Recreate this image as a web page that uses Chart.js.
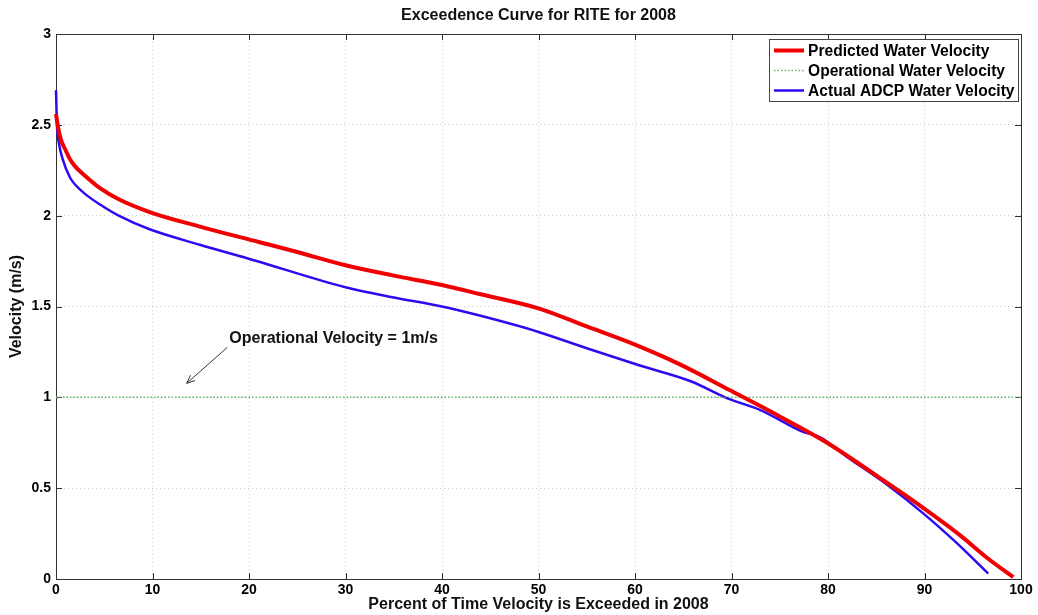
<!DOCTYPE html>
<html><head><meta charset="utf-8">
<script src="https://cdn.jsdelivr.net/npm/chart.js@4/dist/chart.umd.min.js"></script>
<style>html,body{margin:0;padding:0;background:#fff}#wrap{width:1038px;height:615px}</style>
</head><body><div id="wrap"><canvas id="c" width="1038" height="615"></canvas></div>
<script>
// ---- data ----
const titleText = 'Exceedence Curve for RITE for 2008';
const xTitle = 'Percent of Time Velocity is Exceeded in 2008';
const yTitle = 'Velocity (m/s)';
const seriesLabels = ['Predicted Water Velocity', 'Operational Water Velocity', 'Actual ADCP Water Velocity'];

const predX = [0, 0.2, 0.5, 1, 1.45, 2, 3, 4.6, 6.5, 9.7, 14.9, 21.1, 25, 30, 35, 40, 43.9, 50, 55, 60, 64.7, 69.8, 75, 79.9, 86.1, 89.9, 93.7, 96.4, 99.2];
const predV = [2.56, 2.49, 2.42, 2.36, 2.31, 2.27, 2.22, 2.15, 2.09, 2.02, 1.94, 1.854, 1.80, 1.727, 1.67, 1.618, 1.569, 1.49, 1.39, 1.29, 1.18, 1.04, 0.895, 0.75, 0.53, 0.39, 0.24, 0.12, 0.01];

const opX = [0, 100];
const opV = [1, 1];

const adcpX = [0, 0.1, 0.3, 0.7, 1.45, 2, 3, 4.6, 6.5, 9.7, 14.9, 20.5, 30, 35, 40, 43.9, 50, 55, 60.5, 65.7, 69.8, 73, 77.4, 79.2, 81.9, 86.1, 89.9, 93.3, 96.6];
const adcpV = [2.69, 2.50, 2.40, 2.31, 2.21, 2.17, 2.12, 2.06, 2.00, 1.925, 1.84, 1.755, 1.606, 1.55, 1.50, 1.45, 1.36, 1.27, 1.175, 1.09, 0.99, 0.93, 0.81, 0.78, 0.675, 0.52, 0.36, 0.20, 0.03];

const xTicks = [0, 10, 20, 30, 40, 50, 60, 70, 80, 90, 100];
const yTicks = [0, 0.5, 1, 1.5, 2, 2.5, 3];

const annText = 'Operational Velocity = 1m/s';
const annTextAt = {x: 17.96, y: 1.326};
const annArrowFrom = {x: 17.75, y: 1.275};
const annArrowTo = {x: 13.54, y: 1.077};

// ---- chart ----
const FONT = '"Liberation Sans", Arial, Helvetica, sans-serif';
const toPts = (xs, ys) => xs.map((x, i) => ({x, y: ys[i]}));

const framePlugin = {
  id: 'frame',
  beforeDatasetsDraw(chart) {
    const {ctx, chartArea: a, scales} = chart;
    ctx.save();
    ctx.strokeStyle = '#333';
    ctx.lineWidth = 1;
    ctx.setLineDash([]);
    ctx.strokeRect(Math.round(a.left) + 0.5, Math.round(a.top) + 0.5, Math.round(a.right - a.left), Math.round(a.bottom - a.top));
    const tl = 6;
    ctx.beginPath();
    xTicks.forEach(v => {
      const px = Math.round(scales.x.getPixelForValue(v)) + 0.5;
      ctx.moveTo(px, a.bottom); ctx.lineTo(px, a.bottom - tl);
      ctx.moveTo(px, a.top); ctx.lineTo(px, a.top + tl);
    });
    yTicks.forEach(v => {
      const py = Math.round(scales.y.getPixelForValue(v)) + 0.5;
      ctx.moveTo(a.left, py); ctx.lineTo(a.left + tl, py);
      ctx.moveTo(a.right, py); ctx.lineTo(a.right - tl, py);
    });
    ctx.stroke();
    ctx.restore();
  },
  afterDraw(chart) {
    const {ctx, scales} = chart;
    ctx.save();
    // annotation
    const x = scales.x, y = scales.y;
    ctx.fillStyle = '#111';
    ctx.font = 'bold 16px ' + FONT;
    ctx.textBaseline = 'middle';
    ctx.textAlign = 'left';
    ctx.fillText(annText, x.getPixelForValue(annTextAt.x), y.getPixelForValue(annTextAt.y));
    const fx = x.getPixelForValue(annArrowFrom.x), fy = y.getPixelForValue(annArrowFrom.y);
    const tx = x.getPixelForValue(annArrowTo.x), ty = y.getPixelForValue(annArrowTo.y);
    ctx.strokeStyle = '#333';
    ctx.lineWidth = 1;
    ctx.beginPath(); ctx.moveTo(fx, fy); ctx.lineTo(tx, ty); ctx.stroke();
    const ang = Math.atan2(ty - fy, tx - fx);
    const hl = 9, ha = 0.4;
    ctx.beginPath();
    ctx.moveTo(tx - hl * Math.cos(ang - ha), ty - hl * Math.sin(ang - ha));
    ctx.lineTo(tx, ty);
    ctx.lineTo(tx - hl * Math.cos(ang + ha), ty - hl * Math.sin(ang + ha));
    ctx.stroke();

    // legend box
    const lx = 769, ly = 39, lw = 249, lh = 62;
    ctx.fillStyle = '#fff';
    ctx.fillRect(lx, ly, lw, lh);
    ctx.strokeStyle = '#444';
    ctx.strokeRect(lx + 0.5, ly + 0.5, lw, lh);
    chart.data.datasets.forEach((ds, i) => {
      const ry = ly + 11.5 + i * 20;
      ctx.save();
      ctx.strokeStyle = ds.borderColor;
      ctx.lineWidth = ds.borderWidth;
      ctx.setLineDash(ds.borderDash || []);
      ctx.beginPath(); ctx.moveTo(lx + 5, ry); ctx.lineTo(lx + 35, ry); ctx.stroke();
      ctx.restore();
      ctx.fillStyle = '#000';
      ctx.font = 'bold 15.6px ' + FONT;
      ctx.textBaseline = 'middle';
      ctx.textAlign = 'left';
      ctx.fillText(ds.label, lx + 39, ry + 1);
    });
    ctx.restore();
  }
};

new Chart(document.getElementById('c'), {
  type: 'line',
  data: {
    datasets: [
      {label: seriesLabels[0], data: toPts(predX, predV), borderColor: 'rgb(240,0,0)', borderWidth: 4, pointRadius: 0, cubicInterpolationMode: 'monotone', fill: false, clip: 4},
      {label: seriesLabels[1], data: toPts(opX, opV), borderColor: 'rgb(100,180,100)', borderWidth: 1.5, borderDash: [1.5, 2], pointRadius: 0, fill: false},
      {label: seriesLabels[2], data: toPts(adcpX, adcpV), borderColor: 'rgb(45,10,240)', borderWidth: 2.5, pointRadius: 0, cubicInterpolationMode: 'monotone', fill: false, clip: 4}
    ]
  },
  options: {
    responsive: false,
    animation: false,
    devicePixelRatio: 1,
    layout: {padding: {left: 0, right: 17, top: 0, bottom: 0}},
    plugins: {
      legend: {display: false},
      tooltip: {enabled: false},
      title: {display: true, text: titleText, fullSize: false, color: '#111', font: {family: FONT, size: 16, weight: 'bold'}, padding: {top: 6.4, bottom: 8.4}}
    },
    scales: {
      x: {
        type: 'linear', min: 0, max: 100,
        afterBuildTicks: s => { s.ticks = xTicks.map(v => ({value: v})); },
        afterFit: s => { s.height = 36; },
        ticks: {color: '#000', font: {family: FONT, size: 14, weight: 'bold'}, padding: 3, maxRotation: 0, autoSkip: false, callback: v => String(v)},
        grid: {color: 'rgba(0,0,0,0.2)', lineWidth: 1, drawTicks: false},
        border: {display: false, dash: [1, 3]},
        title: {display: true, text: xTitle, color: '#111', font: {family: FONT, size: 16, weight: 'bold'}, padding: {top: 0, bottom: 0.4}}
      },
      y: {
        type: 'linear', min: 0, max: 3,
        afterBuildTicks: s => { s.ticks = yTicks.map(v => ({value: v})); },
        afterFit: s => { s.width = 56; },
        ticks: {color: '#000', font: {family: FONT, size: 14, weight: 'bold'}, padding: 5, autoSkip: false, callback: v => String(v)},
        grid: {color: 'rgba(0,0,0,0.2)', lineWidth: 1, drawTicks: false},
        border: {display: false, dash: [1, 3]},
        title: {display: true, text: yTitle, color: '#111', font: {family: FONT, size: 16, weight: 'bold'}, padding: {top: 7.4, bottom: 0}}
      }
    }
  },
  plugins: [framePlugin]
});
</script>
</body></html>
